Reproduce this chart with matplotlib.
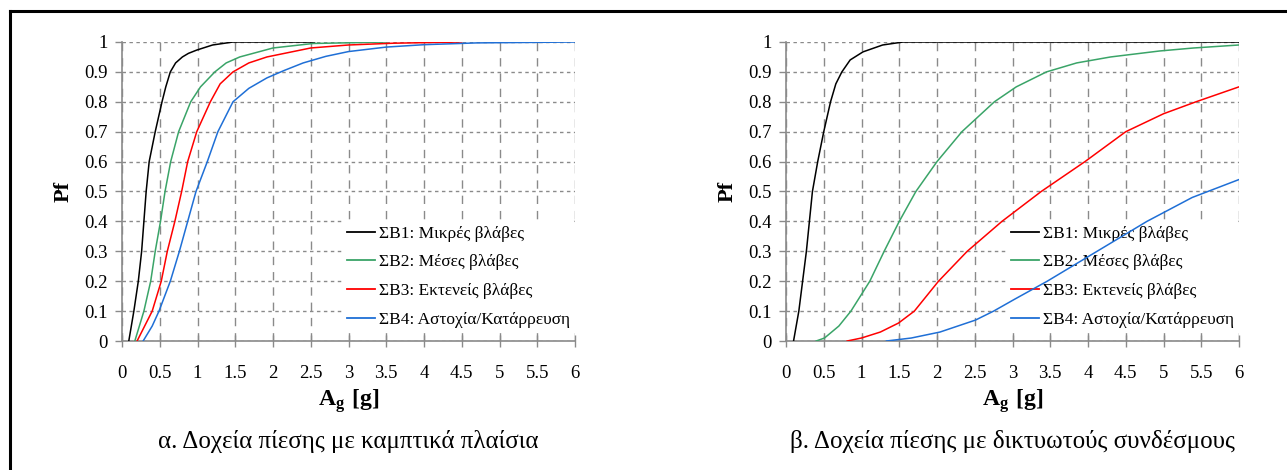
import matplotlib
matplotlib.use("Agg")
import matplotlib.pyplot as plt
from matplotlib.lines import Line2D
from matplotlib.ticker import MultipleLocator, FuncFormatter

plt.rcParams['font.family'] = ['Liberation Serif', 'DejaVu Serif']
plt.rcParams['mathtext.fontset'] = 'custom'
plt.rcParams['mathtext.rm'] = 'Liberation Serif'
plt.rcParams['mathtext.bf'] = 'Liberation Serif:bold'

labels = ["ΣΒ1: Μικρές βλάβες", "ΣΒ2: Μέσες βλάβες",
          "ΣΒ3: Εκτενείς βλάβες", "ΣΒ4: Αστοχία/Κατάρρευση"]
colors = ["#000000", "#3aa468", "#ff0000", "#1f6fd6"]
titles = ["α. Δοχεία πίεσης με καμπτικά πλαίσια",
          "β. Δοχεία πίεσης με δικτυωτούς συνδέσμους"]

# (a) moment frames
a_x1 = [0.09, 0.157, 0.216, 0.26, 0.29, 0.32, 0.36, 0.44, 0.53, 0.58, 0.64, 0.71, 0.8, 0.88, 0.99, 1.2, 1.47, 2.55]
a_y1 = [0, 0.1, 0.2, 0.3, 0.4, 0.5, 0.6, 0.7, 0.8, 0.85, 0.9, 0.93, 0.95, 0.962, 0.973, 0.99, 1.0, 1.0]
a_x2 = [0.17, 0.29, 0.38, 0.44, 0.51, 0.57, 0.645, 0.75, 0.91, 1.04, 1.23, 1.38, 1.56, 2.0, 2.53, 3.5]
a_y2 = [0, 0.1, 0.2, 0.3, 0.4, 0.5, 0.6, 0.7, 0.8, 0.85, 0.9, 0.93, 0.95, 0.98, 0.995, 1.0]
a_x3 = [0.2, 0.3, 0.4, 0.52, 0.6, 0.7, 0.79, 0.87, 0.99, 1.17, 1.3, 1.47, 1.68, 1.92, 2.5, 3.0, 3.6, 4.5]
a_y3 = [0, 0.05, 0.1, 0.2, 0.3, 0.4, 0.5, 0.6, 0.7, 0.8, 0.86, 0.9, 0.93, 0.95, 0.98, 0.99, 0.996, 1.0]
a_x4 = [0.28, 0.4, 0.49, 0.64, 0.76, 0.87, 0.98, 1.13, 1.27, 1.47, 1.68, 1.92, 2.15, 2.4, 2.7, 3.0, 3.5, 4.0, 4.7, 6.0]
a_y4 = [0, 0.05, 0.1, 0.2, 0.3, 0.4, 0.5, 0.6, 0.7, 0.8, 0.845, 0.88, 0.905, 0.93, 0.952, 0.968, 0.983, 0.991, 0.997, 1.0]

# (b) braced frames
b_x1 = [0.1, 0.17, 0.22, 0.27, 0.31, 0.35, 0.42, 0.5, 0.59, 0.66, 0.74, 0.85, 1.02, 1.28, 1.55, 6.0]
b_y1 = [0, 0.1, 0.2, 0.3, 0.4, 0.5, 0.6, 0.7, 0.8, 0.86, 0.9, 0.94, 0.967, 0.99, 1.0, 1.0]
b_x2 = [0.4, 0.51, 0.7, 0.86, 1.11, 1.3, 1.5, 1.72, 2.0, 2.33, 2.76, 3.05, 3.45, 3.85, 4.3, 4.95, 5.4, 6.0]
b_y2 = [0, 0.01, 0.05, 0.1, 0.2, 0.3, 0.4, 0.5, 0.6, 0.7, 0.8, 0.85, 0.9, 0.93, 0.95, 0.97, 0.98, 0.99]
b_x3 = [0.81, 1.0, 1.25, 1.49, 1.7, 2.02, 2.4, 2.86, 3.38, 3.96, 4.5, 5.0, 5.43, 6.0]
b_y3 = [0, 0.01, 0.03, 0.06, 0.1, 0.2, 0.3, 0.4, 0.5, 0.6, 0.7, 0.76, 0.8, 0.85]
b_x4 = [1.33, 1.66, 2.04, 2.51, 2.75, 3.03, 3.46, 4.12, 4.78, 5.38, 6.0]
b_y4 = [0, 0.01, 0.03, 0.07, 0.1, 0.14, 0.2, 0.3, 0.4, 0.48, 0.54]

panels = [
    [(a_x1, a_y1), (a_x2, a_y2), (a_x3, a_y3), (a_x4, a_y4)],
    [(b_x1, b_y1), (b_x2, b_y2), (b_x3, b_y3), (b_x4, b_y4)],
]

fig = plt.figure(figsize=(12.87, 4.70), dpi=100)
lefts = [122 / 1287, 786 / 1287]

for i, curves in enumerate(panels):
    ax = fig.add_axes([lefts[i], 129 / 470, 453 / 1287, 299 / 470])
    for (x, y), c, lab in zip(curves, colors, labels):
        ax.plot(x, y, color=c, lw=1.1, label=lab, zorder=3)
    ax.set_xlim(0, 6)
    ax.set_ylim(0, 1)
    ax.xaxis.set_major_locator(MultipleLocator(0.5))
    ax.yaxis.set_major_locator(MultipleLocator(0.1))
    fmt = FuncFormatter(lambda v, p: "%g" % round(v, 2))
    ax.xaxis.set_major_formatter(fmt)
    ax.yaxis.set_major_formatter(fmt)
    ax.set_axisbelow(True)
    ax.xaxis.grid(True, color="#8a8a8a", lw=1.0, dashes=(6, 5))
    ax.yaxis.grid(True, color="#8a8a8a", lw=1.0, dashes=(2.5, 2.5))
    for s in ["top", "right"]:
        ax.spines[s].set_visible(False)
    for s in ["left", "bottom"]:
        ax.spines[s].set_color("#8a8a8a")
        ax.spines[s].set_linewidth(1.2)
    ax.tick_params(axis="x", direction="inout", length=8, width=1, color="#8a8a8a",
                   labelsize=13.5, pad=13)
    ax.tick_params(axis="y", direction="out", length=5, width=1, color="#8a8a8a",
                   labelsize=13.5, pad=5)
    ax.set_xlabel(r"$\mathbf{A_g\ [g]}$", fontsize=17, labelpad=4)
    ax.set_ylabel("Pf", fontsize=16, fontweight="bold", labelpad=8)
    leg = ax.legend(loc="center left", bbox_to_anchor=(0.485, 0.215), frameon=True,
                    fontsize=12.5, handlelength=1.6, handletextpad=0.25,
                    labelspacing=0.72, borderpad=0.3, borderaxespad=0)
    leg.get_frame().set_facecolor("white")
    leg.get_frame().set_edgecolor("none")
    leg.get_frame().set_alpha(1)
    leg.set_zorder(2)
    for ln in leg.get_lines():
        ln.set_linewidth(1.3)
    ax.text(0.5, -0.335, titles[i], transform=ax.transAxes, ha="center", va="center",
            fontsize=18)

# outer frame (left and top edges)
fig.add_artist(Line2D([10 / 1287, 10 / 1287], [0, 1 - 11 / 470], color="black", lw=2.2,
                      transform=fig.transFigure))
fig.add_artist(Line2D([10 / 1287, 1], [1 - 11 / 470, 1 - 11 / 470], color="black", lw=2.2,
                      transform=fig.transFigure))

fig.savefig("out.png", dpi=100)
